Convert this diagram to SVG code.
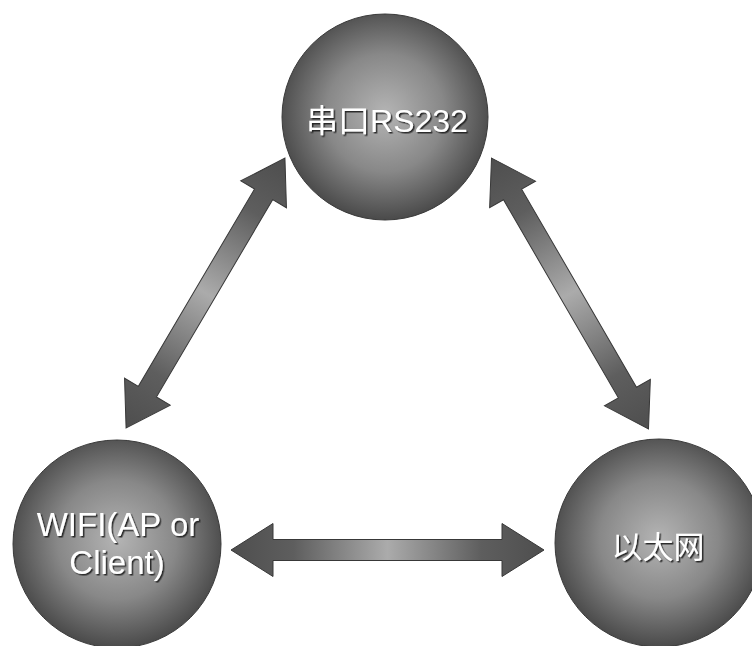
<svg xmlns="http://www.w3.org/2000/svg" xmlns:xlink="http://www.w3.org/1999/xlink" width="752" height="646" viewBox="0 0 752 646">
  <defs>
    <radialGradient id="sphere" cx="50%" cy="48%" r="52%">
      <stop offset="0" stop-color="#b4b4b4"/>
      <stop offset="0.55" stop-color="#888888"/>
      <stop offset="1" stop-color="#4a4a4a"/>
    </radialGradient>
    <linearGradient id="arrowGrad" x1="0" y1="0" x2="1" y2="0">
      <stop offset="0" stop-color="#4e4e4e"/>
      <stop offset="0.2" stop-color="#5e5e5e"/>
      <stop offset="0.5" stop-color="#ababab"/>
      <stop offset="0.8" stop-color="#5e5e5e"/>
      <stop offset="1" stop-color="#4e4e4e"/>
    </linearGradient>
    <filter id="textShadow" x="-10%" y="-20%" width="130%" height="150%">
      <feDropShadow dx="1.5" dy="1.5" stdDeviation="0.4" flood-color="#1a1a1a" flood-opacity="0.9"/>
    </filter>
    <polygon id="arrow" points="-156.5,0 -114.5,-26.5 -114.5,-10.5 114.5,-10.5 114.5,-26.5 156.5,0 114.5,26.5 114.5,10.5 -114.5,10.5 -114.5,26.5"/>
  </defs>
  <style>
    .node circle { fill: url(#sphere); stroke: #3a3a3a; stroke-width: 1; }
    .node text { fill: #ffffff; font-family: "Liberation Sans", "Noto Sans CJK SC", sans-serif; text-anchor: middle; filter: url(#textShadow); }
    .conn use { fill: url(#arrowGrad); stroke: #383838; stroke-width: 1; }
  </style>
  <rect width="752" height="646" fill="#ffffff"/>
  <g id="connectors" class="conn">
    <use xlink:href="#arrow" href="#arrow" transform="translate(205.5,293) rotate(-59.5)"/>
    <use xlink:href="#arrow" href="#arrow" transform="translate(570,293.5) rotate(59.9)"/>
    <use xlink:href="#arrow" href="#arrow" transform="translate(387.5,550)"/>
  </g>
  <g id="node-serial" class="node">
    <circle cx="385" cy="117" r="103"/>
    <text x="387" y="132" font-size="32">串口RS232</text>
  </g>
  <g id="node-wifi" class="node">
    <circle cx="117" cy="544" r="104"/>
    <text x="118" y="536" font-size="33">WIFI(AP or</text>
    <text x="117" y="573.5" font-size="33">Client)</text>
  </g>
  <g id="node-ethernet" class="node">
    <circle cx="659" cy="543" r="104"/>
    <text x="658" y="558" font-size="31">以太网</text>
  </g>
</svg>
